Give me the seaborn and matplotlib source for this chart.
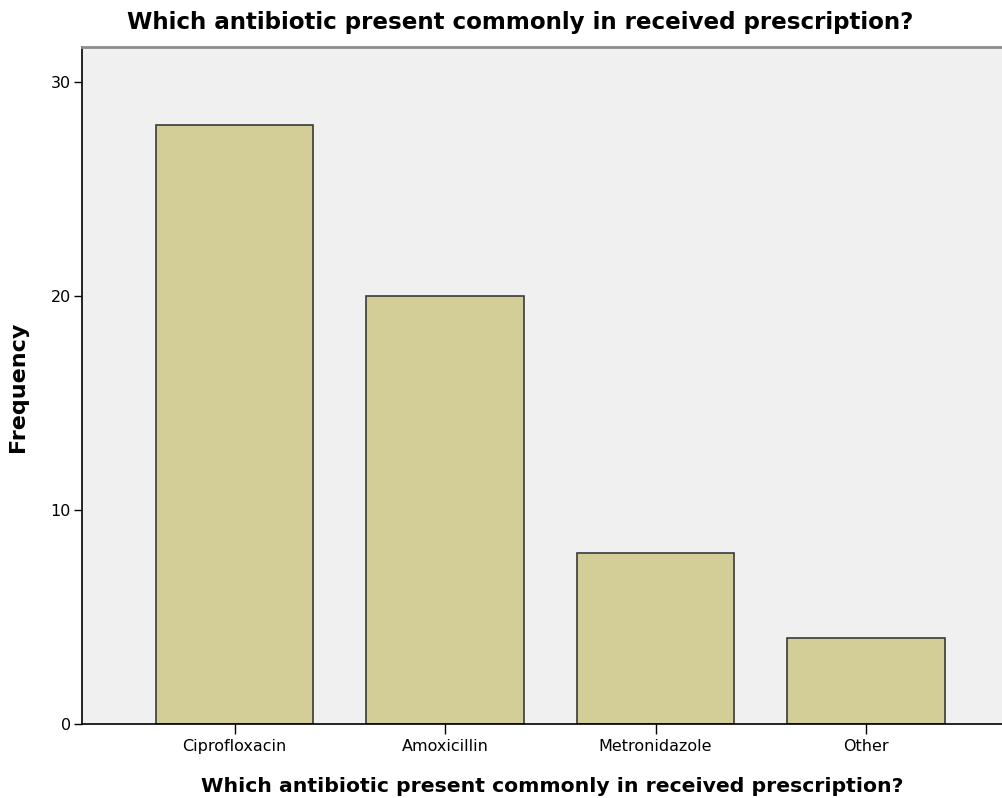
import matplotlib
matplotlib.use("Agg")
import matplotlib.pyplot as plt
import seaborn as sns
import pandas as pd

categories = ["Ciprofloxacin", "Amoxicillin", "Metronidazole", "Other"]
frequencies = [28, 20, 8, 4]
y_ticks = [0, 10, 20, 30]
title_text = "Which antibiotic present commonly in received prescription?"

sns.set_theme(style="white")
plt.rcParams['font.family'] = ['DejaVu Sans']
plt.rcParams['text.color'] = 'black'
plt.rcParams['xtick.color'] = 'black'
plt.rcParams['ytick.color'] = 'black'

df = pd.DataFrame({"antibiotic": categories, "freq": frequencies})

fig = plt.figure(figsize=(10.02, 7.98), dpi=100)
ax = fig.add_axes([82/1002, 74/798, 920/1002, 677/798])
ax.set_facecolor("#F0F0F0")

sns.barplot(data=df, x="antibiotic", y="freq", order=categories, color="#D3CE97",
            saturation=1, width=0.75, edgecolor="#3A3A3A", linewidth=1.2, ax=ax)

ax.set_xlim(-0.7245, 3.646)
ax.set_ylim(0, 31.64)
ax.set_yticks(y_ticks)
ax.set_yticklabels([str(t) for t in y_ticks], fontsize=11.5)
ax.tick_params(axis="x", labelsize=11.5, length=7, width=1, color="black", direction="out", bottom=True, pad=4)
ax.tick_params(axis="y", length=6, width=1, color="black", direction="out", left=True, pad=2)

for s in ["left", "bottom"]:
    ax.spines[s].set_color("black")
    ax.spines[s].set_linewidth(1.2)
ax.spines["top"].set_color("#8C8C8C")
ax.spines["top"].set_linewidth(2)
ax.spines["right"].set_visible(False)

ax.set_xlabel("")
ax.set_ylabel("")
fig.text(520/1002, 1 - 22/798, title_text, ha="center", va="center", fontsize=16.6, fontweight="bold")
fig.text(552/1002, 1 - 786/798, title_text, ha="center", va="center", fontsize=14.7, fontweight="bold")
fig.text(18/1002, 1 - 387/798, "Frequency", ha="center", va="center", rotation=90, fontsize=16, fontweight="bold")

fig.savefig("out.png", dpi=100, facecolor="white")
